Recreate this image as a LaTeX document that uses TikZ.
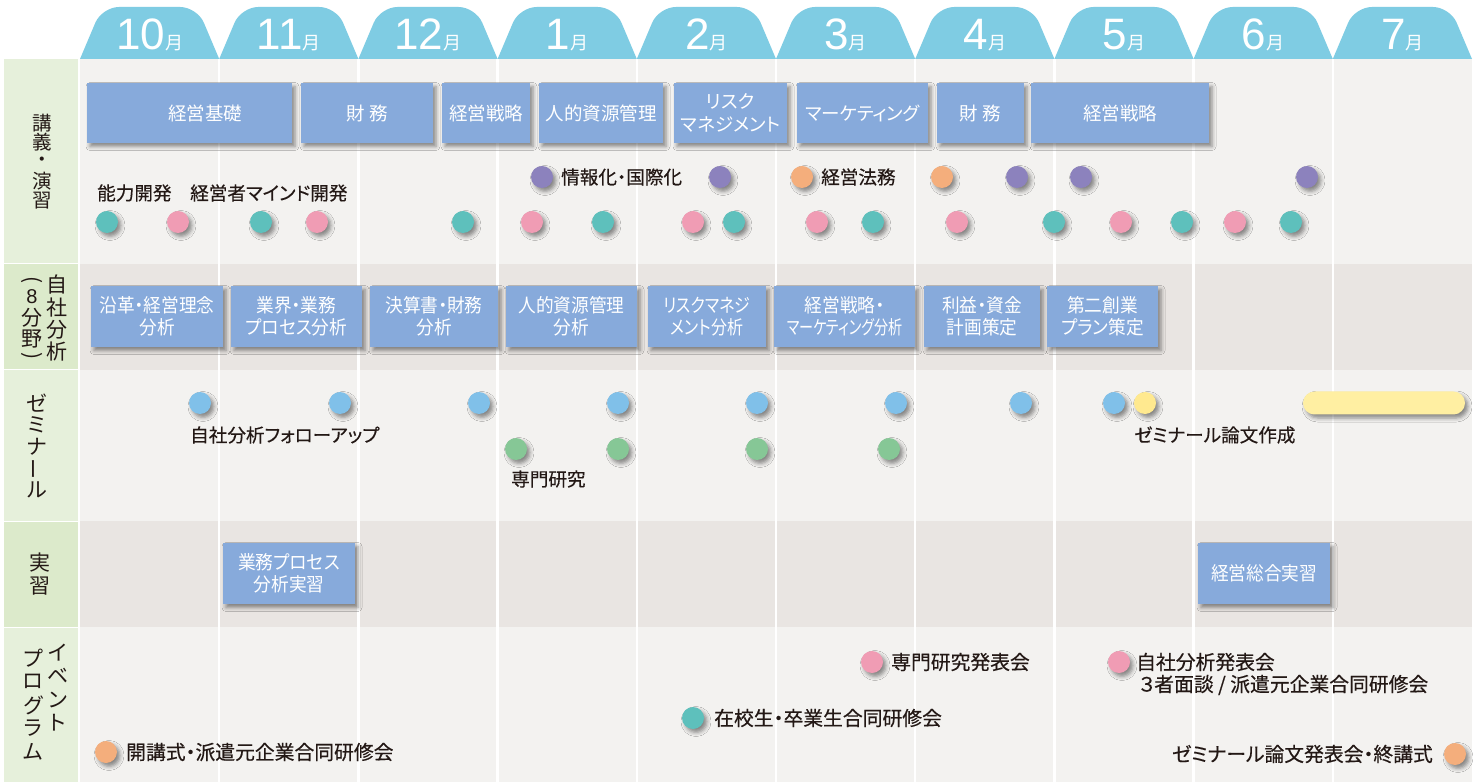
\documentclass[tikz,border=0pt]{standalone}
\usepackage{fontspec}
\setmainfont{Noto Sans CJK JP}[RawFeature=+palt]
\newfontfamily\lat{Liberation Sans}
\newfontfamily\jpc[FakeStretch=0.93,RawFeature=+palt]{Noto Sans CJK JP}
\newfontfamily\jpn[FakeStretch=0.84,RawFeature=+palt]{Noto Sans CJK JP}
\newfontfamily\jpcc[FakeStretch=0.74,RawFeature=+palt]{Noto Sans CJK JP}
\newfontfamily\jpb[FakeBold=0.4,RawFeature=+palt]{Noto Sans CJK JP}
\usetikzlibrary{shadows.blur}
\definecolor{tabcyan}{HTML}{7FCCE3}
\definecolor{boxblue}{HTML}{87AADB}
\definecolor{rowlight}{HTML}{F3F2F0}
\definecolor{rowdark}{HTML}{E9E5E2}
\definecolor{lgreen}{HTML}{E6F0DB}
\definecolor{dgreen}{HTML}{DCEACB}
\definecolor{ink}{HTML}{231815}
\definecolor{cteal}{HTML}{5EC0BC}
\definecolor{cpink}{HTML}{F09CB4}
\definecolor{cpurple}{HTML}{8C82BD}
\definecolor{corange}{HTML}{F4AE7C}
\definecolor{cblue}{HTML}{80C0E9}
\definecolor{cgreen}{HTML}{86C796}
\definecolor{cyellow}{HTML}{FFE98F}
\definecolor{cbar}{HTML}{FFEFA2}
\begin{document}
\begin{tikzpicture}[x=1pt,y=-1pt,
  shd/.style={blur shadow={shadow xshift=3pt,shadow yshift=-3.5pt,shadow blur radius=4pt,shadow opacity=45}},
  box/.style={fill=boxblue,shd,text=white,align=center,inner sep=0pt,
    font=\fontsize{18.5}{23}\selectfont},
  boxb/.style={box,font=\jpc\fontsize{19}{21.5}\selectfont},
  dot/.style={circle,minimum size=22pt,inner sep=0pt,shd},
  lab/.style={anchor=west,inner sep=0pt,text=ink,font=\jpb\fontsize{18.6}{23}\selectfont},
  evl/.style={lab,font=\jpb\fontsize{19.8}{23}\selectfont},
  vch/.style={inner sep=0pt,text=ink,font=\fontsize{21}{21}\selectfont},
  month/.style={anchor=base,inner sep=0pt,text=white}]
\useasboundingbox (0,0) rectangle (1478,783);
\fill[white] (0,0) rectangle (1478,783);
% label column
\fill[lgreen] (4,59) rectangle (78,263);
\fill[dgreen] (4,264) rectangle (78,369.5);
\fill[lgreen] (4,370.5) rectangle (78,521);
\fill[dgreen] (4,522) rectangle (78,627);
\fill[lgreen] (4,628) rectangle (78,782);
% row bands
\fill[rowlight] (80,59) rectangle (1472,264);
\fill[rowdark] (80,264) rectangle (1472,370);
\fill[rowlight] (80,370) rectangle (1472,521);
\fill[rowdark] (80,521) rectangle (1472,627);
\fill[rowlight] (80,627) rectangle (1472,782);
\foreach \k in {1,...,9}
  \draw[white,line width=2.5pt] ({80+139.2*\k},59) -- ({80+139.2*\k},782);
% month tabs
\foreach \k/\m in {0/10,1/11,2/12,3/1,4/2,5/3,6/4,7/5,8/6,9/7}{
  \pgfmathsetmacro\L{80+139.2*\k}
  \pgfmathsetmacro\R{\L+139.2}
  \fill[tabcyan] (\L,59) [rounded corners=17pt] -- ({\L+22},7) -- ({\R-22},7) [sharp corners] -- (\R,59) -- cycle;
  \node[month] (m\k) at ({(\L+\R)/2},50) {{\lat\fontsize{44}{44}\selectfont\m}{\fontsize{18}{18}\selectfont 月}};
}
% vertical labels
\foreach \c [count=\i from 0] in {講,義,・,演,習}
  \node[vch,font=\fontsize{19.5}{19.5}\selectfont] (va\i) at (42,{123+19.3*\i}) {\c};
\foreach \c [count=\i from 0] in {自,社,分,析}
  \node[vch] (vb\i) at (57,{285+22.3*\i}) {\c};
\node[vch,rotate=-90] (vp0) at (32,280) {(};
\node[vch,font=\lat\fontsize{20}{20}\selectfont] (vp1) at (32,296.5) {8};
\node[vch] (vp2) at (32,318) {分};
\node[vch] (vp3) at (32,339) {野};
\node[vch,rotate=-90] (vp4) at (32,356) {)};
\node[vch] (vc0) at (37,403) {ゼ};
\node[vch] (vc1) at (37,425) {ミ};
\node[vch] (vc2) at (37,447) {ナ};
\node[vch,rotate=90] (vc3) at (37,469) {ー};
\node[vch] (vc4) at (37,490) {ル};
\node[vch] (vd0) at (40,563) {実};
\node[vch] (vd1) at (40,586) {習};
\foreach \c [count=\i from 0] in {イ,ベ,ン,ト}
  \node[vch] (ve\i) at (58,{653+23.3*\i}) {\c};
\foreach \c [count=\i from 0] in {プ,ロ,グ,ラ,ム}
  \node[vch] (vf\i) at (33,{658+23.5*\i}) {\c};
% row 1 boxes
\node[box,minimum width=205pt,minimum height=60pt] (a1) at (189.5,113) {\hspace*{31pt}経営基礎};
\node[box,minimum width=132pt,minimum height=60pt] (a2) at (367,113) {財 務};
\node[box,minimum width=88pt,minimum height=60pt] (a3) at (486,113) {経営戦略};
\node[box,minimum width=124pt,minimum height=60pt] (a4) at (601,113) {人的資源管理};
\node[box,minimum width=113pt,minimum height=60pt] (a5) at (730.5,113) {リスク\\マネジメント};
\node[box,minimum width=131pt,minimum height=60pt] (a6) at (862.5,113) {マーケティング};
\node[box,minimum width=87pt,minimum height=60pt] (a7) at (980.5,113) {財 務};
\node[box,minimum width=178pt,minimum height=60pt] (a8) at (1120,113) {経営戦略};
% row 1 dots
\foreach \x [count=\i] in {107,261,463,603,734,873,1054,1182,1291}
  \node[dot,fill=cteal] (dt\i) at (\x,222) {};
\foreach \x [count=\i] in {178,317,532,693,817,957,1121,1235}
  \node[dot,fill=cpink] (dp\i) at (\x,222) {};
\foreach \x [count=\i] in {542,720,1017,1081,1307}
  \node[dot,fill=cpurple] (du\i) at (\x,177) {};
\foreach \x [count=\i] in {802,942}
  \node[dot,fill=corange] (do\i) at (\x,177) {};
\node[lab] (l1) at (97,193) {能力開発};
\node[lab] (l2) at (190,193) {経営者マインド開発};
\node[lab] (l3) at (561,177) {情報化・国際化};
\node[lab] (l4) at (821,177) {経営法務};
% row 2 boxes
\node[boxb,minimum width=132pt,minimum height=61pt] (b1) at (157,316.5) {沿革・経営理念\\分析};
\node[boxb,minimum width=131pt,minimum height=61pt] (b2) at (296.5,316.5) {業界・業務\\プロセス分析};
\node[boxb,minimum width=128pt,minimum height=61pt] (b3) at (434,316.5) {決算書・財務\\分析};
\node[boxb,minimum width=131pt,minimum height=61pt] (b4) at (571.5,316.5) {人的資源管理\\分析};
\node[boxb,font=\jpn\fontsize{19}{21.5}\selectfont,minimum width=118pt,minimum height=61pt] (b5) at (707,316.5) {リスクマネジ\\メント分析};
\node[boxb,minimum width=141pt,minimum height=61pt] (b6) at (844.5,316.5) {経営戦略・\\{\jpcc マーケティング分析}};
\node[boxb,minimum width=116pt,minimum height=61pt] (b7) at (982,316.5) {利益・資金\\計画策定};
\node[boxb,minimum width=111pt,minimum height=61pt] (b8) at (1102.5,316.5) {第二創業\\プラン策定};
% seminar
\foreach \x [count=\i] in {200,340,479,618,757,896,1021,1114}
  \node[dot,fill=cblue] (sb\i) at (\x,403) {};
\node[dot,fill=cyellow] (sy) at (1145,403) {};
\node[fill=cbar,rounded corners=11.5pt,minimum width=162pt,minimum height=23pt,inner sep=0pt,shd] (bar) at (1384,403) {};
\foreach \x [count=\i] in {516,618,757,889}
  \node[dot,fill=cgreen] (sg\i) at (\x,449) {};
\node[lab] (l5) at (190,435) {自社分析フォローアップ};
\node[lab] (l6) at (511,479) {専門研究};
\node[lab] (l7) at (1134,435) {ゼミナール論文作成};
% practice
\node[boxb,minimum width=132pt,minimum height=61pt] (c1) at (289,573.5) {業務プロセス\\分析実習};
\node[boxb,minimum width=132pt,minimum height=61pt] (c2) at (1264,573.5) {経営総合実習};
% events
\node[dot,fill=corange] (e1) at (106,752) {};
\node[evl] (le1) at (126,752) {開講式・派遣元企業合同研修会};
\node[dot,fill=cteal] (e2) at (693,718) {};
\node[evl] (le2) at (714,718) {在校生・卒業生合同研修会};
\node[dot,fill=cpink] (e3) at (872,662) {};
\node[evl] (le3) at (891,662) {専門研究発表会};
\node[dot,fill=cpink] (e4) at (1119,662) {};
\node[evl] (le4) at (1136,662) {自社分析発表会};
\node[evl] (le5) at (1139,685) {３者面談 / 派遣元企業合同研修会};
\node[dot,fill=corange] (e5) at (1455,754) {};
\node[evl,anchor=east] (le6) at (1433,754) {ゼミナール論文発表会・終講式};
\end{tikzpicture}
\end{document}
